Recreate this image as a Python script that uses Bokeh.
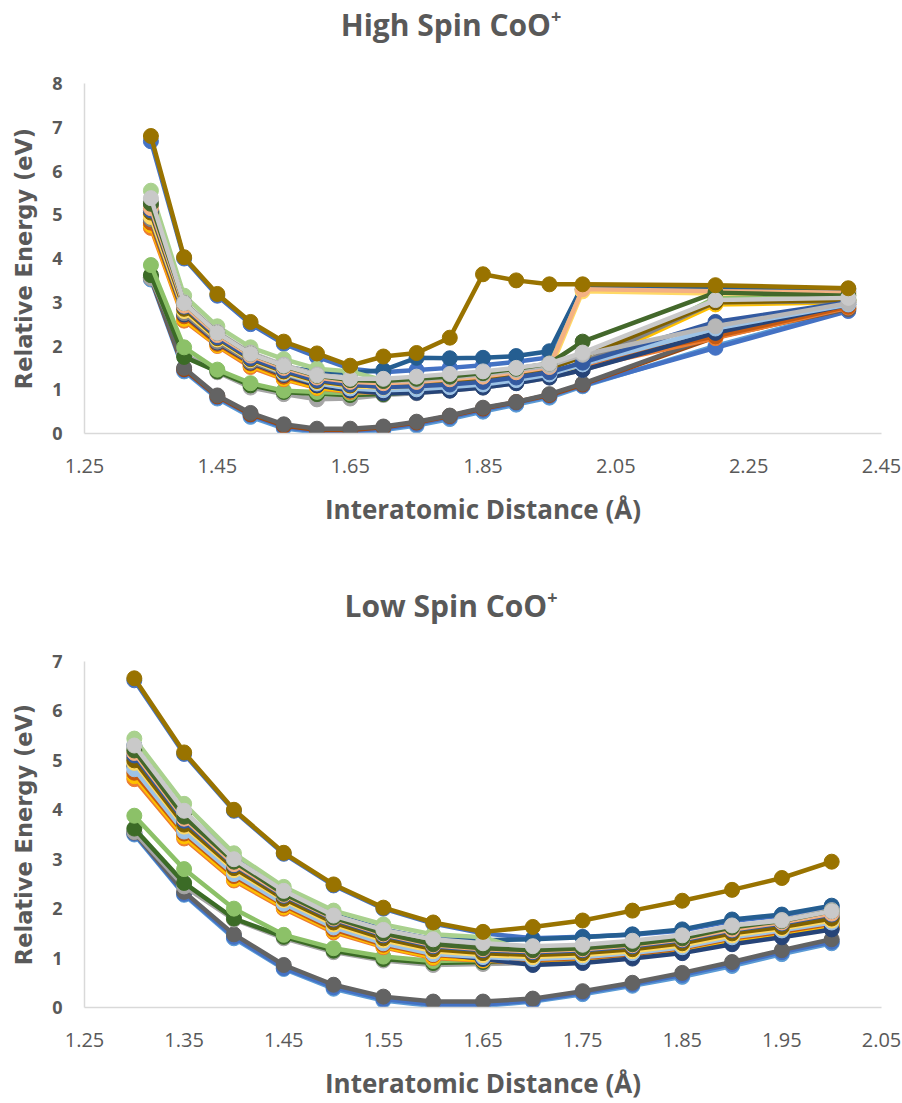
from bokeh.plotting import figure
from bokeh.layouts import column
from bokeh.models import Range1d, FixedTicker, Div
from bokeh.embed import file_html
from bokeh.resources import INLINE

# ---------------- High spin CoO+ : distance (Å) vs relative energy (eV) ----------------
hs_r = [1.35, 1.40, 1.45, 1.50, 1.55, 1.60, 1.65, 1.70, 1.75, 1.80, 1.85, 1.90, 1.95, 2.00, 2.20, 2.40]

# ground state manifold
hs_b01 = [3.52, 1.42, 0.80, 0.38, 0.12, 0.02, 0.02, 0.08, 0.18, 0.33, 0.50, 0.66, 0.82, 1.08, 2.00, 2.82]
hs_b02 = [3.55, 1.45, 0.83, 0.42, 0.15, 0.05, 0.05, 0.11, 0.22, 0.37, 0.54, 0.70, 0.86, 1.10, 1.96, 2.80]
hs_b03 = [3.56, 1.47, 0.85, 0.44, 0.18, 0.08, 0.08, 0.14, 0.25, 0.40, 0.57, 0.72, 0.88, 1.12, 2.20, 2.85]
hs_b04 = [3.57, 1.50, 0.87, 0.47, 0.21, 0.11, 0.11, 0.16, 0.27, 0.41, 0.59, 0.72, 0.90, 1.14, 2.24, 2.85]

# lower band of states
hs_g01 = [3.55, 1.82, 1.40, 1.05, 0.90, 0.78, 0.80, 0.88, 0.92, 0.98, 1.05, 1.15, 1.28, 1.45, 2.35, 2.95]
hs_g02 = [3.62, 1.75, 1.42, 1.10, 0.95, 0.90, 0.88, 0.90, 0.95, 1.00, 1.08, 1.18, 1.32, 1.50, 3.05, 3.05]
hs_g03 = [3.85, 1.97, 1.46, 1.15, 0.98, 0.95, 0.92, 0.95, 1.00, 1.05, 1.12, 1.22, 1.35, 1.55, 3.10, 3.08]

# second state of the highest pair
hs_t01 = [6.68, 4.00, 3.15, 2.50, 2.05, 1.75, 1.48, 1.40, 1.45, 1.50, 1.56, 1.64, 1.74, 3.30, 3.30, 3.25]

# upper band of states
hs_m13 = [5.20, 2.95, 2.28, 1.80, 1.52, 1.42, 1.38, 1.45, 1.73, 1.72, 1.73, 1.77, 1.88, 3.38, 3.35, 3.30]
hs_m15 = [5.55, 3.15, 2.45, 1.97, 1.70, 1.48, 1.42, 1.22, 1.26, 1.30, 1.36, 1.45, 1.55, 3.28, 3.22, 3.20]
hs_m01 = [4.70, 2.58, 2.00, 1.52, 1.24, 1.04, 0.95, 0.93, 0.96, 1.02, 1.08, 1.18, 1.30, 1.50, 2.18, 2.88]
hs_m02 = [4.76, 2.62, 2.02, 1.56, 1.26, 1.05, 0.97, 0.95, 0.98, 1.04, 1.10, 1.20, 1.33, 1.55, 2.95, 3.00]
hs_m03 = [4.82, 2.68, 2.05, 1.60, 1.30, 1.10, 1.00, 0.98, 1.02, 1.08, 1.15, 1.25, 1.38, 1.60, 2.22, 2.90]
hs_m04 = [4.90, 2.72, 2.08, 1.62, 1.34, 1.10, 0.98, 0.92, 0.93, 0.98, 1.05, 1.15, 1.28, 1.45, 2.30, 2.95]
hs_m05 = [4.90, 2.75, 2.10, 1.64, 1.36, 1.14, 1.04, 1.00, 1.02, 1.08, 1.15, 1.25, 1.37, 1.62, 3.00, 3.02]
hs_m06 = [5.00, 2.82, 2.16, 1.68, 1.38, 1.15, 1.03, 0.99, 1.01, 1.06, 1.12, 1.22, 1.35, 1.58, 2.40, 2.95]
hs_m07 = [4.95, 2.80, 2.15, 1.68, 1.40, 1.18, 1.08, 1.05, 1.08, 1.14, 1.20, 1.30, 1.42, 3.25, 3.20, 3.18]
hs_m08 = [5.05, 2.85, 2.18, 1.70, 1.42, 1.20, 1.10, 1.08, 1.12, 1.18, 1.26, 1.36, 1.48, 1.75, 3.00, 3.05]
hs_m09 = [5.10, 2.90, 2.20, 1.72, 1.44, 1.22, 1.12, 1.06, 1.08, 1.12, 1.18, 1.28, 1.40, 1.62, 2.55, 3.00]
hs_m10 = [5.15, 2.92, 2.25, 1.78, 1.50, 1.28, 1.18, 1.15, 1.18, 1.24, 1.30, 1.40, 1.52, 3.30, 3.25, 3.22]
hs_m11 = [5.30, 3.00, 2.32, 1.85, 1.57, 1.35, 1.25, 1.20, 1.22, 1.28, 1.35, 1.45, 1.55, 1.80, 2.45, 2.98]
hs_m12 = [5.25, 2.98, 2.30, 1.82, 1.54, 1.32, 1.22, 1.20, 1.25, 1.30, 1.38, 1.48, 1.60, 2.10, 3.22, 3.15]
hs_m14 = [5.38, 2.98, 2.30, 1.82, 1.55, 1.33, 1.25, 1.25, 1.30, 1.36, 1.42, 1.50, 1.60, 1.85, 3.05, 3.10]

# highest state
hs_t02 = [6.80, 4.03, 3.19, 2.55, 2.10, 1.83, 1.55, 1.76, 1.84, 2.19, 3.64, 3.50, 3.41, 3.41, 3.39, 3.32]

hs_series = [hs_b01, hs_b02, hs_b03, hs_b04,
             hs_g01, hs_g02, hs_g03,
             hs_t01,
             hs_m13, hs_m15,
             hs_m01, hs_m02, hs_m03, hs_m04, hs_m05, hs_m06, hs_m07, hs_m08, hs_m09, hs_m10,
             hs_m11, hs_m12, hs_m14,
             hs_t02]

# ---------------- Low spin CoO+ ----------------
ls_r = [1.30, 1.35, 1.40, 1.45, 1.50, 1.55, 1.60, 1.65, 1.70, 1.75, 1.80, 1.85, 1.90, 1.95, 2.00]

ls_b01 = [3.50, 2.28, 1.40, 0.78, 0.38, 0.14, 0.03, 0.03, 0.12, 0.27, 0.44, 0.62, 0.84, 1.08, 1.30]
ls_b02 = [3.52, 2.30, 1.43, 0.80, 0.41, 0.17, 0.06, 0.06, 0.14, 0.30, 0.47, 0.66, 0.88, 1.12, 1.33]
ls_b03 = [3.54, 2.34, 1.48, 0.86, 0.46, 0.22, 0.12, 0.12, 0.18, 0.33, 0.50, 0.70, 0.92, 1.16, 1.38]

ls_g01 = [3.55, 2.45, 1.78, 1.40, 1.12, 0.95, 0.86, 0.88, 0.90, 0.95, 1.02, 1.12, 1.30, 1.44, 1.60]
ls_g02 = [3.62, 2.52, 1.80, 1.43, 1.15, 0.98, 0.90, 0.92, 0.93, 0.98, 1.05, 1.16, 1.34, 1.48, 1.64]
ls_g03 = [3.88, 2.80, 2.00, 1.47, 1.20, 1.03, 0.94, 0.96, 0.96, 1.00, 1.08, 1.20, 1.38, 1.50, 1.68]

ls_t01 = [6.62, 5.13, 3.98, 3.11, 2.47, 2.00, 1.70, 1.50, 1.40, 1.43, 1.47, 1.56, 1.75, 1.86, 2.03]

ls_m13 = [5.30, 3.96, 3.02, 2.36, 1.88, 1.58, 1.38, 1.36, 1.38, 1.42, 1.48, 1.58, 1.78, 1.88, 2.06]
ls_m15 = [5.44, 4.12, 3.12, 2.44, 1.96, 1.68, 1.48, 1.42, 1.12, 1.14, 1.22, 1.32, 1.52, 1.64, 1.82]
ls_m01 = [4.62, 3.42, 2.57, 2.00, 1.52, 1.22, 1.00, 0.95, 0.90, 0.94, 1.02, 1.12, 1.30, 1.45, 1.62]
ls_m02 = [4.68, 3.46, 2.60, 2.03, 1.55, 1.24, 1.02, 0.96, 0.92, 0.96, 1.04, 1.15, 1.34, 1.48, 1.66]
ls_m03 = [4.75, 3.52, 2.66, 2.07, 1.58, 1.27, 1.06, 1.00, 0.96, 1.00, 1.08, 1.20, 1.40, 1.53, 1.70]
ls_m04 = [4.88, 3.60, 2.73, 2.13, 1.65, 1.32, 1.10, 0.98, 0.86, 0.90, 0.99, 1.10, 1.28, 1.42, 1.58]
ls_m05 = [5.05, 3.74, 2.85, 2.23, 1.75, 1.43, 1.20, 1.12, 1.08, 1.12, 1.20, 1.32, 1.52, 1.65, 1.82]
ls_m06 = [4.82, 3.56, 2.70, 2.10, 1.62, 1.30, 1.08, 1.02, 0.98, 1.02, 1.10, 1.22, 1.42, 1.56, 1.72]
ls_m07 = [4.95, 3.66, 2.78, 2.17, 1.68, 1.36, 1.14, 1.06, 1.02, 1.06, 1.14, 1.26, 1.46, 1.60, 1.76]
ls_m08 = [5.00, 3.70, 2.82, 2.20, 1.72, 1.40, 1.18, 1.10, 1.06, 1.10, 1.18, 1.30, 1.50, 1.63, 1.80]
ls_m09 = [5.10, 3.78, 2.88, 2.26, 1.78, 1.46, 1.24, 1.16, 1.12, 1.16, 1.24, 1.36, 1.56, 1.70, 1.88]
ls_m10 = [5.15, 3.82, 2.90, 2.28, 1.80, 1.48, 1.26, 1.18, 1.14, 1.18, 1.26, 1.38, 1.58, 1.72, 1.90]
ls_m11 = [5.25, 3.92, 2.98, 2.33, 1.86, 1.55, 1.32, 1.22, 1.18, 1.22, 1.30, 1.42, 1.64, 1.77, 1.97]
ls_m12 = [5.20, 3.86, 2.95, 2.30, 1.82, 1.50, 1.28, 1.20, 1.16, 1.20, 1.28, 1.40, 1.62, 1.75, 1.95]
ls_m14 = [5.30, 3.98, 3.00, 2.36, 1.86, 1.57, 1.38, 1.30, 1.24, 1.27, 1.35, 1.46, 1.66, 1.76, 1.95]

ls_t02 = [6.66, 5.16, 4.00, 3.13, 2.49, 2.02, 1.72, 1.53, 1.63, 1.76, 1.96, 2.16, 2.38, 2.62, 2.95]

ls_series = [ls_b01, ls_b02, ls_b03,
             ls_g01, ls_g02, ls_g03,
             ls_t01,
             ls_m13, ls_m15,
             ls_m01, ls_m02, ls_m03, ls_m04, ls_m05, ls_m06, ls_m07, ls_m08, ls_m09, ls_m10,
             ls_m11, ls_m12, ls_m14,
             ls_t02]

# axis ticks
hs_xticks = [1.25, 1.45, 1.65, 1.85, 2.05, 2.25, 2.45]
hs_xlabels = ["1.25", "1.45", "1.65", "1.85", "2.05", "2.25", "2.45"]
hs_yticks = [0, 1, 2, 3, 4, 5, 6, 7, 8]
ls_xticks = [1.25, 1.35, 1.45, 1.55, 1.65, 1.75, 1.85, 1.95, 2.05]
ls_xlabels = ["1.25", "1.35", "1.45", "1.55", "1.65", "1.75", "1.85", "1.95", "2.05"]
ls_yticks = [0, 1, 2, 3, 4, 5, 6, 7]

# ---------------- styling ----------------
band_colors = ["#255E91", "#A9D18E",
               "#ED7D31", "#FFC000", "#C55A11", "#264478", "#848484", "#9DC3E6", "#FFD966",
               "#7F6000", "#335AA1", "#F4B183", "#B7B7B7", "#43682B", "#C9C9C9"]
low_colors = ["#A5A5A5", "#3B6B26", "#8CC168"]
hs_colors = ["#5B9BD5", "#4472C4", "#9E480E", "#636363"] + low_colors + ["#4472C4"] + band_colors + ["#997300"]
ls_colors = ["#5B9BD5", "#4472C4", "#636363"] + low_colors + ["#4472C4"] + band_colors + ["#997300"]

TXT = "#595959"
AXIS = "#D9D9D9"
SUP = '<sup style="font-size:60%;line-height:0;vertical-align:0.75em">+</sup>'


def heading(html, height, line):
    return Div(text=html, width=902, height=height, margin=0,
               styles={"font-family": "Open Sans", "font-size": "30px", "font-weight": "bold",
                       "color": TXT, "text-align": "center", "line-height": f"{line}px",
                       "width": "902px", "background": "white"})


def make_chart(xs, series, colors, xr, yr, xticks, xlabels, yticks, height, top, bottom):
    p = figure(width=902, height=height, x_range=Range1d(*xr), y_range=Range1d(*yr),
               output_backend="svg", toolbar_location=None, margin=0,
               min_border_left=84, min_border_right=21,
               min_border_top=top, min_border_bottom=bottom)
    p.outline_line_color = None
    p.grid.visible = False
    p.background_fill_color = "white"
    p.border_fill_color = "white"

    for ys, c in zip(series, colors):
        p.line(xs, ys, line_width=4.5, line_color=c, line_join="round")
        p.scatter(xs, ys, size=15, fill_color=c, line_color=c, line_width=1)

    xa, ya = p.xaxis[0], p.yaxis[0]
    for ax in (xa, ya):
        ax.axis_line_color = AXIS
        ax.axis_line_width = 1.5
        ax.major_tick_line_color = None
        ax.minor_tick_line_color = None
        ax.major_label_text_color = TXT
        ax.axis_label_text_color = TXT
        ax.axis_label_text_font_style = "bold"

    xa.ticker = FixedTicker(ticks=xticks)
    xa.major_label_overrides = {t: s for t, s in zip(xticks, xlabels)}
    xa.major_label_text_font = "Open Sans"
    xa.major_label_text_font_size = "20px"
    xa.major_label_standoff = 19
    xa.axis_label = "Interatomic Distance (Å)"
    xa.axis_label_text_font = "Open Sans"
    xa.axis_label_text_font_size = "26px"
    xa.axis_label_standoff = 15

    ya.ticker = FixedTicker(ticks=yticks)
    ya.major_label_text_font = "Open Sans"
    ya.major_label_text_font_style = "bold"
    ya.major_label_text_font_size = "18px"
    ya.major_label_standoff = 16
    ya.axis_label = "Relative Energy (eV)"
    ya.axis_label_text_font = "DejaVu Sans"
    ya.axis_label_text_font_size = "22.5px"
    ya.axis_label_standoff = 12
    return p


title_hs = heading("High Spin CoO" + SUP, 50, 50)
p_hs = make_chart(hs_r, hs_series, hs_colors, (1.25, 2.45), (0, 8),
                  hs_xticks, hs_xlabels, hs_yticks, height=520, top=33, bottom=137)
title_ls = heading("Low Spin CoO" + SUP, 72, 72)
p_ls = make_chart(ls_r, ls_series, ls_colors, (1.25, 2.05), (0, 7),
                  ls_xticks, ls_xlabels, ls_yticks, height=461, top=19, bottom=93)

page = column(title_hs, p_hs, title_ls, p_ls, spacing=0, margin=0)
open("out.html", "w").write(file_html(page, INLINE))
